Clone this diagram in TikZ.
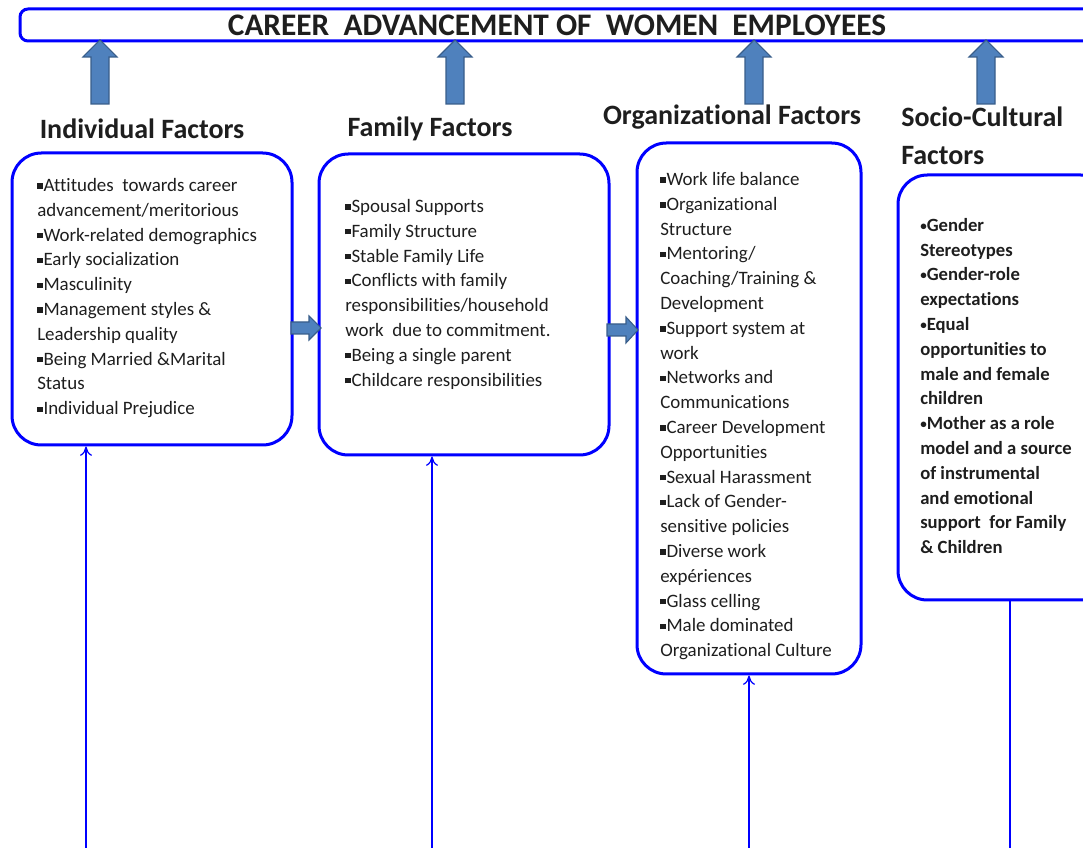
\documentclass[tikz,border=0pt]{standalone}
\usepackage{fontspec}
\setmainfont[Ligatures=NoCommon]{Carlito}
\usetikzlibrary{fit,arrows.meta}
\definecolor{frame}{RGB}{0,0,255}
\definecolor{afill}{RGB}{79,129,189}
\definecolor{aline}{RGB}{56,93,138}
\definecolor{ink}{RGB}{30,30,30}
\newcommand{\sqb}{\raisebox{0.3ex}{\rule{0.28em}{0.28em}}\kern0.05em}
\newcommand{\dotb}{\raisebox{0.12ex}{\scalebox{0.7}{•}}}
\tikzset{
  factorbox/.style={draw=frame, line width=2.25pt, rounded corners=22pt, inner sep=0pt},
  boxtext/.style={anchor=north west, align=left, inner sep=0pt, text=ink, font=\fontsize{14.2}{18.6}\selectfont},
  heading/.style={inner sep=0pt, text=ink, font=\fontsize{21}{28.5}\selectfont\bfseries},
  blockarrow/.style={fill=afill, draw=aline, line width=0.8pt, line join=miter},
  feed/.style={draw=frame, line width=0.9pt, -{To[length=7pt,width=9pt]}},
}
\begin{document}
\begin{tikzpicture}[x=0.75pt,y=-0.75pt]
\useasboundingbox (0,0) rectangle (1083,848);
\clip (0,0) rectangle (1083,848);
% title bar
\node[draw=frame, line width=2.25pt, rounded corners=6pt, inner sep=0pt, fit={(20,9) (1110,41)}] (bar) {};
\node[inner sep=0pt, text=ink, font=\fontsize{23.5}{28}\selectfont\bfseries] (title) at (557,25) {CAREER\ \ ADVANCEMENT OF\ \ WOMEN\ \ EMPLOYEES};
% block arrows up
\foreach \x/\n in {100/u1,455/u2,754/u3,986/u4}{
  \coordinate (\n) at (\x,104);
  \path[blockarrow] (\x-9,104) -- (\x-9,57) -- (\x-17,57) -- (\x,40) -- (\x+17,57) -- (\x+9,57) -- (\x+9,104) -- cycle;
}
% headings
\node[heading] (h1) at (142,129) {Individual Factors};
\node[heading] (h2) at (430,129) {Family Factors};
\node[heading] (h3) at (732,117) {Organizational Factors};
\node[heading, anchor=west, align=left] (h4) at (901,136) {Socio-Cultural\\Factors};
% boxes
\node[factorbox, fit={(12,153) (292,445)}] (b1) {};
\node[factorbox, fit={(319,154) (609,455)}] (b2) {};
\node[factorbox, fit={(637,143) (861,674)}] (b3) {};
\node[factorbox, fit={(898,175) (1110,600)}] (b4) {};
% box texts
\node[boxtext] (t1) at (37,178) {\sqb Attitudes\ \ towards career\\advancement/meritorious\\\sqb Work-related demographics\\\sqb Early socialization\\\sqb Masculinity\\\sqb Management styles \&\\Leadership quality\\\sqb Being Married \&Marital\\Status\\\sqb Individual Prejudice};
\node[boxtext] (t2) at (345,199) {\sqb Spousal Supports\\\sqb Family Structure\\\sqb Stable Family Life\\\sqb Conflicts with family\\responsibilities/household\\work\ \ due to commitment.\\\sqb Being a single parent\\\sqb Childcare responsibilities};
\node[boxtext] (t3) at (660,172) {\sqb Work life balance\\\sqb Organizational\\Structure\\\sqb Mentoring/\\Coaching/Training \&\\Development\\\sqb Support system at\\work\\\sqb Networks and\\Communications\\\sqb Career Development\\Opportunities\\\sqb Sexual Harassment\\\sqb Lack of Gender-\\sensitive policies\\\sqb Diverse work\\expériences\\\sqb Glass celling\\\sqb Male dominated\\Organizational Culture};
\node[boxtext, font=\fontsize{14}{18.6}\selectfont\bfseries] (t4) at (920,218) {\dotb Gender\\Stereotypes\\\dotb Gender-role\\expectations\\\dotb Equal\\opportunities to\\male and female\\children\\\dotb Mother as a role\\model and a source\\of instrumental\\and emotional\\support\ \ for Family\\\& Children};
% right block arrows
\path[blockarrow] (291,322) -- (309,322) -- (309,316) -- (321,328) -- (309,340) -- (309,334) -- (291,334) -- cycle;
\path[blockarrow] (607,324) -- (626,324) -- (626,317) -- (638,330) -- (626,343) -- (626,336) -- (607,336) -- cycle;
% feeding lines from below
\coordinate (f1) at (86,848);
\coordinate (f2) at (432,848);
\coordinate (f3) at (749,848);
\coordinate (f4) at (1010,848);
\draw[feed] (f1) -- (f1 |- b1.south);
\draw[feed] (f2) -- (f2 |- b2.south);
\draw[feed] (f3) -- (f3 |- b3.south);
\draw[draw=frame, line width=0.9pt] (f4) -- (f4 |- b4.south);
\end{tikzpicture}
\end{document}
